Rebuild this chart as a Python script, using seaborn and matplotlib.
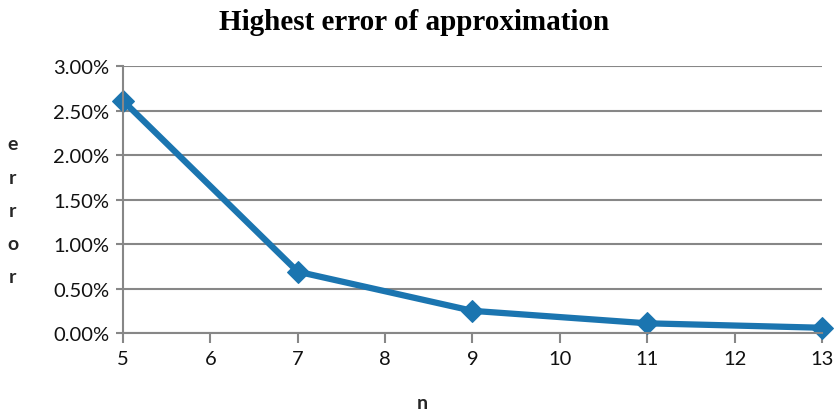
import numpy as np
import pandas as pd
import matplotlib
matplotlib.use("Agg")
import matplotlib.pyplot as plt
import matplotlib.ticker as mtick
import seaborn as sns

# values
n_values = [5, 7, 9, 11, 13]
error_pct = [2.61, 0.69, 0.25, 0.11, 0.06]

x_ticks = list(range(5, 14))
y_ticks = [0.0, 0.5, 1.0, 1.5, 2.0, 2.5, 3.0]

LINE_COLOR = "#1b75b0"
GRID_COLOR = "#878787"

sns.set_theme(style="white")
plt.rcParams['font.family'] = ['Lato', 'DejaVu Sans']

df = pd.DataFrame({"n": n_values, "error": error_pct})

fig = plt.figure(figsize=(8.37, 4.14), dpi=100)
ax = fig.add_axes([0.147, 0.193, 0.835, 0.645])

sns.lineplot(data=df, x="n", y="error", ax=ax, color=LINE_COLOR,
             linewidth=4.5, marker="D", markersize=11,
             markeredgecolor=LINE_COLOR, markerfacecolor=LINE_COLOR,
             clip_on=False)

ax.set_xlim(5, 13)
ax.set_ylim(0, 3.0)
ax.set_xticks(x_ticks)
ax.set_yticks(y_ticks)
ax.yaxis.set_major_formatter(mtick.FuncFormatter(lambda v, p: f"{v:.2f}%"))

ax.grid(axis="y", color=GRID_COLOR, linewidth=1.5)
ax.grid(axis="x", visible=False)
ax.set_axisbelow(True)

for side in ["top", "right"]:
    ax.spines[side].set_visible(False)
for side in ["left", "bottom"]:
    ax.spines[side].set_color(GRID_COLOR)
    ax.spines[side].set_linewidth(1.5)

ax.tick_params(axis="both", labelsize=14.5, colors=GRID_COLOR, labelcolor="#111111",
               width=1.5, direction="out")
ax.tick_params(axis="x", length=7, pad=5, bottom=True)
ax.tick_params(axis="y", length=5, pad=5, left=True)

ax.set_xlabel("")
ax.set_ylabel("")
fig.text(0.505, 0.005, "n", ha="center", va="bottom", fontsize=14, fontweight="bold")
fig.text(0.015, 0.49, "e\nr\nr\no\nr", ha="center", va="center", fontsize=14,
         fontweight="bold", linespacing=2.15)

fig.text(0.495, 0.945, "Highest error of approximation", ha="center", va="center",
         fontsize=21, fontweight="bold", color="#000000",
         family=["Liberation Serif", "DejaVu Serif"])

fig.savefig("out.png", dpi=100)
